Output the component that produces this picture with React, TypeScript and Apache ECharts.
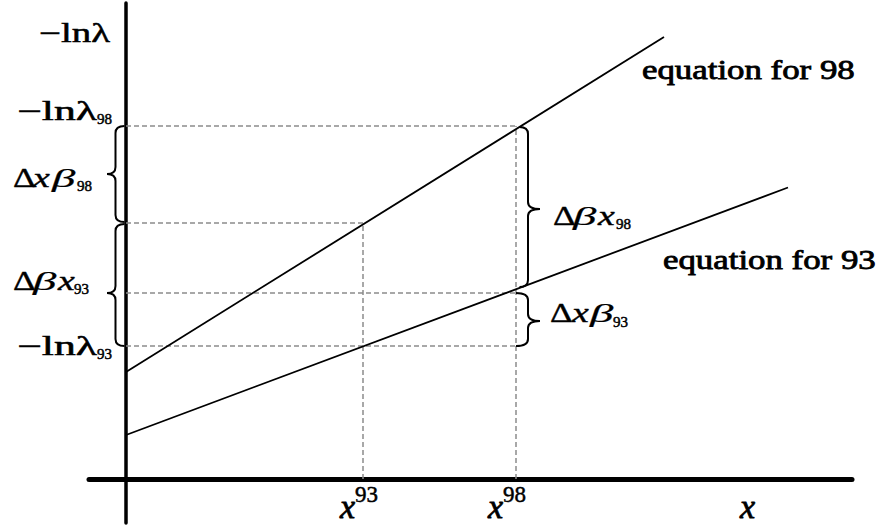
import React, { useEffect, useRef } from "react";
import * as echarts from "echarts";

// ---- data (units: arbitrary, origin at the axes' crossing) ----
const line98: [number, number][] = [[0, 10.7], [53.8, 44.2]];
const line93: [number, number][] = [[0, 4.4], [66.2, 29.15]];
const xMarks = [23.7, 39.0]; // x^93, x^98
const levels = [35.3, 25.6, 18.6, 13.3]; // -lnλ98, mid, line93 at x98, -lnλ93
const guideSegments: [number, number][][] = [
  [[0, levels[0]], [xMarks[1], levels[0]]],
  [[0, levels[1]], [xMarks[0], levels[1]]],
  [[0, levels[2]], [xMarks[1], levels[2]]],
  [[0, levels[3]], [xMarks[1], levels[3]]],
  [[xMarks[0], 0], [xMarks[0], levels[1]]],
  [[xMarks[1], 0], [xMarks[1], levels[0]]],
];
// [openX, spineX, tipX, topY, tipY, bottomY]
const braces: number[][] = [
  [-0.15, -1.05, -1.9, 35.3, 30.5, 25.7],
  [-0.15, -1.05, -1.9, 25.5, 18.6, 13.3],
  [39.35, 40.2, 41.4, 35.2, 27.0, 19.2],
  [39.0, 40.2, 41.4, 18.6, 15.8, 13.3],
];
const xRange = [-3.7, 72.6];
const yRange = [-4.4, 47.6];

const FONT = "Liberation Serif";

function txt(
  text: string,
  x: number,
  baseline: number,
  fs: number,
  opts: { align?: string; sx?: number; italic?: boolean; lw?: number } = {}
): any {
  return {
    type: "text",
    x,
    y: baseline - 0.34 * fs,
    scaleX: opts.sx || 1,
    silent: true,
    style: {
      text,
      fill: "#000",
      stroke: "#000",
      lineWidth: opts.lw ?? 0.5,
      fontFamily: FONT,
      fontSize: fs,
      fontStyle: opts.italic ? "italic" : "normal",
      fontWeight: "normal",
      textAlign: opts.align || "left",
      textVerticalAlign: "middle",
    },
  };
}

// glyph-by-glyph math label: [char, left, italic]
function mathLabel(glyphs: [string, number, boolean][], baseline: number, sub: string, subX: number, subBase: number) {
  const els = glyphs.map(([ch, x, it]) => {
    if (ch === "Δ") return txt(ch, x, baseline, 27, { sx: 1.3, lw: 0.4 });
    if (ch === "x") return txt(ch, x, baseline, 27, { italic: it, sx: 1.4, lw: 0.4 });
    return txt(ch, x, baseline, 26, { italic: it, sx: 1.8, lw: 0.2 });
  });
  els.push(txt(sub, subX, subBase, 15));
  return els;
}

export default function App() {
  const ref = useRef<HTMLDivElement>(null);
  useEffect(() => {
    if (!ref.current) return;
    const chart = echarts.init(ref.current, undefined, { renderer: "svg" });
    const ES = 1.29;
    const guideSeries = guideSegments.map((seg) => ({
      type: "line",
      data: seg,
      showSymbol: false,
      silent: true,
      lineStyle: { color: "#8c8c8c", width: 1.5, type: [5, 3] },
      z: 1,
    }));
    chart.setOption({
      animation: false,
      backgroundColor: "#fff",
      grid: { left: 89, right: 26, top: 3, bottom: 8, containLabel: false },
      xAxis: {
        type: "value",
        min: xRange[0],
        max: xRange[1],
        axisLine: { show: true, onZero: true, lineStyle: { color: "#000", width: 5 } },
        axisTick: { show: false },
        axisLabel: { show: false },
        splitLine: { show: false },
      },
      yAxis: {
        type: "value",
        min: yRange[0],
        max: yRange[1],
        axisLine: { show: true, onZero: true, lineStyle: { color: "#000", width: 3.5 } },
        axisTick: { show: false },
        axisLabel: { show: false },
        splitLine: { show: false },
      },
      series: [
        ...guideSeries,
        {
          type: "line",
          data: line98,
          showSymbol: false,
          silent: true,
          lineStyle: { color: "#000", width: 1.8 },
          z: 3,
        },
        {
          type: "line",
          data: line93,
          showSymbol: false,
          silent: true,
          lineStyle: { color: "#000", width: 1.8 },
          z: 3,
        },
        {
          type: "custom",
          coordinateSystem: "cartesian2d",
          data: braces,
          silent: true,
          z: 4,
          renderItem: (params: any, api: any) => {
            const xo = api.coord([api.value(0), 0])[0];
            const xs = api.coord([api.value(1), 0])[0];
            const xt = api.coord([api.value(2), 0])[0];
            const yt = api.coord([0, api.value(3)])[1];
            const ym = api.coord([0, api.value(4)])[1];
            const yb = api.coord([0, api.value(5)])[1];
            const r = 7;
            const d =
              `M${xo},${yt} Q${xs},${yt} ${xs},${yt + r} L${xs},${ym - r} ` +
              `Q${xs},${ym} ${xt},${ym} Q${xs},${ym} ${xs},${ym + r} ` +
              `L${xs},${yb - r} Q${xs},${yb} ${xo},${yb}`;
            return {
              type: "path",
              shape: { pathData: d },
              style: { fill: "none", stroke: "#000", lineWidth: 2 },
            };
          },
        },
      ],
      graphic: [
        // y-axis labels
        txt("−lnλ", 110, 42, 27, { align: "right", sx: 1.44 }),
        txt("−lnλ", 97, 120, 27, { align: "right", sx: 1.62 }),
        txt("98", 97, 124, 15),
        ...mathLabel([["Δ", 13, false], ["x", 33, true], ["β", 52, true]], 187, "98", 77, 191),
        ...mathLabel([["Δ", 13, false], ["β", 33, true], ["x", 58, true]], 290, "93", 74, 294),
        txt("−lnλ", 97, 355, 27, { align: "right", sx: 1.62 }),
        txt("93", 97, 359, 15),
        // right brace labels
        ...mathLabel([["Δ", 553, false], ["β", 573, true], ["x", 598, true]], 225, "98", 616, 229),
        ...mathLabel([["Δ", 550, false], ["x", 572, true], ["β", 590, true]], 322, "93", 613, 327),
        // line names
        txt("equation for 98", 642, 79, 27, { sx: ES, lw: 0.8 }),
        txt("equation for 93", 663, 269, 27, { sx: ES, lw: 0.8 }),
        // x-axis labels
        txt("x", 340, 518, 34, { italic: true, lw: 0.8 }),
        txt("93", 355, 502, 23),
        txt("x", 488, 518, 34, { italic: true, lw: 0.8 }),
        txt("98", 503, 502, 23),
        txt("x", 740, 518, 34, { italic: true, lw: 0.8 }),
      ],
    });
    return () => chart.dispose();
  }, []);
  return (
    <div
      ref={ref}
      style={{ position: "absolute", left: 0, top: 0, width: 878, height: 531, background: "#fff" }}
    />
  );
}
